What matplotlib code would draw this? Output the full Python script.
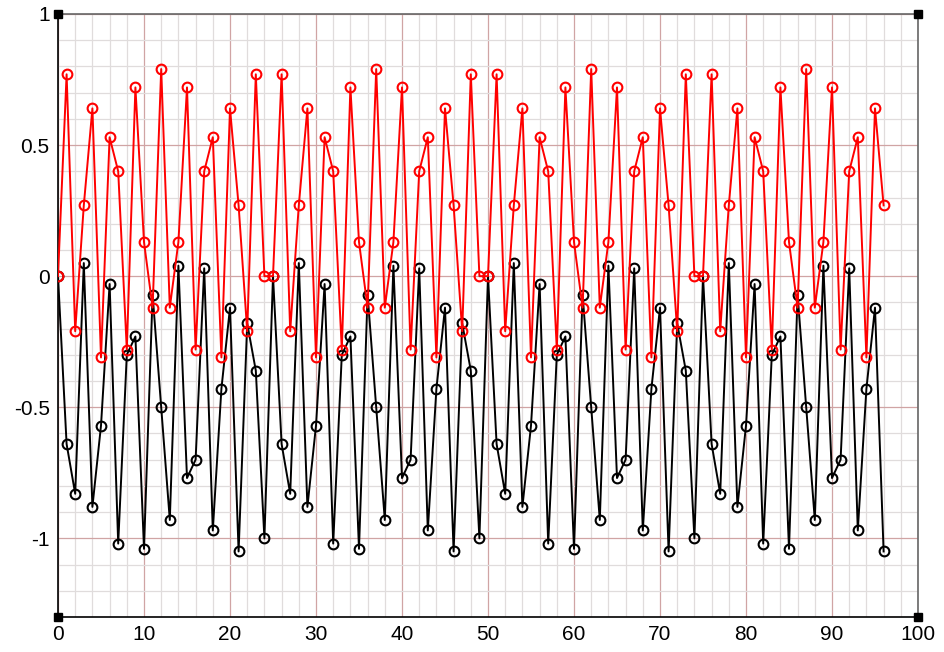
import matplotlib
matplotlib.use("Agg")
import matplotlib.pyplot as plt
import numpy as np
from matplotlib.ticker import MultipleLocator

x = list(range(97))

red = [0.00, 0.77, -0.21, 0.27, 0.64, -0.31, 0.53, 0.40, -0.28, 0.72, 0.13, -0.12, 0.79, -0.12, 0.13, 0.72, -0.28, 0.40, 0.53, -0.31, 0.64, 0.27, -0.21, 0.77, 0.00,
       0.00, 0.77, -0.21, 0.27, 0.64, -0.31, 0.53, 0.40, -0.28, 0.72, 0.13, -0.12, 0.79, -0.12, 0.13, 0.72, -0.28, 0.40, 0.53, -0.31, 0.64, 0.27, -0.21, 0.77, 0.00,
       0.00, 0.77, -0.21, 0.27, 0.64, -0.31, 0.53, 0.40, -0.28, 0.72, 0.13, -0.12, 0.79, -0.12, 0.13, 0.72, -0.28, 0.40, 0.53, -0.31, 0.64, 0.27, -0.21, 0.77, 0.00,
       0.00, 0.77, -0.21, 0.27, 0.64, -0.31, 0.53, 0.40, -0.28, 0.72, 0.13, -0.12, 0.79, -0.12, 0.13, 0.72, -0.28, 0.40, 0.53, -0.31, 0.64, 0.27]

black = [0.00, -0.64, -0.83, 0.05, -0.88, -0.57, -0.03, -1.02, -0.30, -0.23, -1.04, -0.07, -0.50, -0.93, 0.04, -0.77, -0.70, 0.03, -0.97, -0.43, -0.12, -1.05, -0.18, -0.36, -1.00,
         0.00, -0.64, -0.83, 0.05, -0.88, -0.57, -0.03, -1.02, -0.30, -0.23, -1.04, -0.07, -0.50, -0.93, 0.04, -0.77, -0.70, 0.03, -0.97, -0.43, -0.12, -1.05, -0.18, -0.36, -1.00,
         0.00, -0.64, -0.83, 0.05, -0.88, -0.57, -0.03, -1.02, -0.30, -0.23, -1.04, -0.07, -0.50, -0.93, 0.04, -0.77, -0.70, 0.03, -0.97, -0.43, -0.12, -1.05, -0.18, -0.36, -1.00,
         0.00, -0.64, -0.83, 0.05, -0.88, -0.57, -0.03, -1.02, -0.30, -0.23, -1.04, -0.07, -0.50, -0.93, 0.04, -0.77, -0.70, 0.03, -0.97, -0.43, -0.12, -1.05]

xticks = [0, 10, 20, 30, 40, 50, 60, 70, 80, 90, 100]
yticks = [-1, -0.5, 0, 0.5, 1]
yticklabels = ["-1", "-0.5", "0", "0.5", "1"]

plt.rcParams['font.family'] = ['Liberation Sans', 'DejaVu Sans']

fig = plt.figure(figsize=(9.45, 6.52), dpi=100)
ax = fig.add_axes([58/945, 1 - 617/652, (918-58)/945, (617-14)/652])

ax.set_xlim(0, 100)
ax.set_ylim(-1.3, 1.0)

ax.xaxis.set_minor_locator(MultipleLocator(2))
ax.yaxis.set_minor_locator(MultipleLocator(0.1))
ax.set_xticks(xticks)
ax.set_xticklabels([str(t) for t in xticks])
ax.set_yticks(yticks)
ax.set_yticklabels(yticklabels)
ax.grid(which='minor', color='#e0dcdc', linewidth=0.9)
ax.grid(which='major', color='#d0a4a4', linewidth=0.9)
ax.set_axisbelow(True)
ax.tick_params(which='both', length=0, labelsize=15, pad=6)

for name, s in ax.spines.items():
    s.set_linewidth(1.2)
    s.set_color('black' if name in ('bottom', 'left') else '#666666')

ax.plot(x, black, color='black', linewidth=1.4, marker='o', markersize=7,
        markerfacecolor='none', markeredgecolor='black', markeredgewidth=1.5, zorder=3)
ax.plot(x, red, color='#ff0000', linewidth=1.4, marker='o', markersize=7,
        markerfacecolor='none', markeredgecolor='#ff0000', markeredgewidth=1.5, zorder=4)

# corner handles
ax.plot([0, 1, 0, 1], [0, 0, 1, 1], linestyle='none', marker='s', markersize=6,
        color='black', transform=ax.transAxes, clip_on=False, zorder=5)

fig.savefig('out.png', dpi=100)
